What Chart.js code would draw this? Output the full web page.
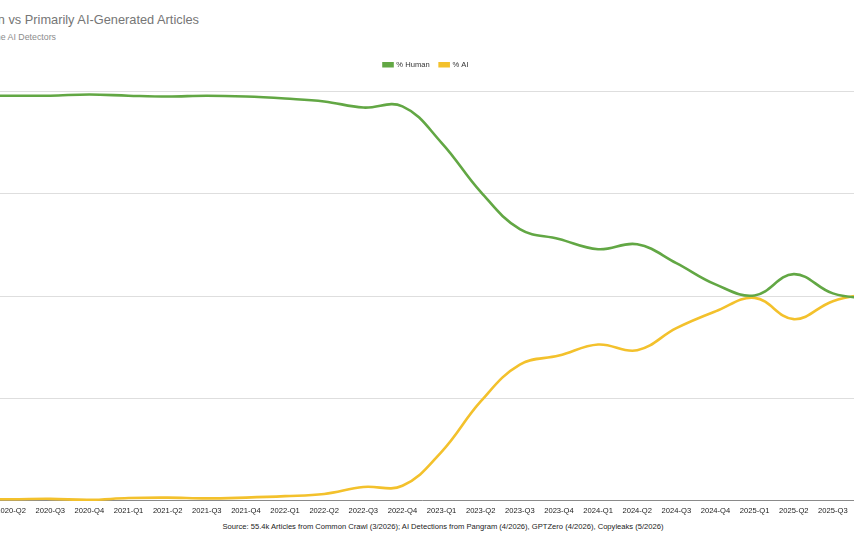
<!DOCTYPE html>
<html>
<head>
<meta charset="utf-8">
<script src="https://cdn.jsdelivr.net/npm/chart.js@4/dist/chart.umd.min.js"></script>
<style>
  body { margin: 0; width: 854px; height: 551px; overflow: hidden; background: #fff; position: relative; font-family: "Liberation Sans", Arial, sans-serif; }
  #title { position: absolute; right: 655px; top: 12px; white-space: nowrap; font-size: 12.8px; color: #767676; }
  #subtitle { position: absolute; right: 798px; top: 32px; white-space: nowrap; font-size: 8.8px; color: #8c8c8c; }
  #source { position: absolute; left: 0; width: 886px; top: 522px; text-align: center; white-space: nowrap; font-size: 7.6px; color: #222; }
  #wrap { position: absolute; left: -78px; top: 51px; width: 1008px; height: 469px; }
</style>
</head>
<body>
<div id="title">% Human vs Primarily AI-Generated Articles</div>
<div id="subtitle">Average of the AI Detectors</div>
<div id="wrap"><canvas id="trendChart"></canvas></div>
<div id="source">Source: 55.4k Articles from Common Crawl (3/2026); AI Detections from Pangram (4/2026), GPTZero (4/2026), Copyleaks (5/2026)</div>

<script>
const quarters = [
  "2020-Q1", "2020-Q2", "2020-Q3", "2020-Q4",
  "2021-Q1", "2021-Q2", "2021-Q3", "2021-Q4",
  "2022-Q1", "2022-Q2", "2022-Q3", "2022-Q4",
  "2023-Q1", "2023-Q2", "2023-Q3", "2023-Q4",
  "2024-Q1", "2024-Q2", "2024-Q3", "2024-Q4",
  "2025-Q1", "2025-Q2", "2025-Q3", "2025-Q4"
];

const humanPct = [
  99.0, 99.0, 99.0, 99.3,
  99.0, 98.8, 99.0, 98.8,
  98.3, 97.6, 96.1, 96.4,
  87.5, 75.5, 66.4, 64.0,
  61.5, 62.7, 58.1, 52.9,
  50.2, 55.4, 50.7, 49.3
];

const aiPct = [
  0.5, 0.4, 0.5, 0.25,
  0.7, 0.8, 0.6, 0.8,
  1.15, 1.7, 3.4, 3.7,
  12.0, 24.3, 33.3, 35.5,
  38.2, 36.8, 42.2, 46.3,
  49.6, 44.4, 48.8, 50.8
];

const yTicks = [0, 25, 50, 75, 100];

// push the plot down a bit under the legend
const legendGap = {
  id: "legendGap",
  beforeInit(chart) {
    const origFit = chart.legend.fit;
    chart.legend.fit = function () {
      origFit.bind(chart.legend)();
      this.height += 13;
    };
  },
  // center the legend on the whole canvas, ignoring the right padding
  afterLayout(chart) {
    chart.legend.left = 0;
    chart.legend.right = chart.width;
    chart.legend.width = chart.width;
  }
};

const ctx = document.getElementById("trendChart").getContext("2d");
new Chart(ctx, {
  type: "line",
  data: {
    labels: quarters,
    datasets: [
      {
        label: "% Human",
        data: humanPct,
        borderColor: "#62a744",
        backgroundColor: "#62a744",
        borderWidth: 2.6,
        pointRadius: 0,
        tension: 0.4
      },
      {
        label: "% AI",
        data: aiPct,
        borderColor: "#f3c12c",
        backgroundColor: "#f3c12c",
        borderWidth: 2.6,
        pointRadius: 0,
        tension: 0.4
      }
    ]
  },
  plugins: [legendGap],
  options: {
    responsive: true,
    maintainAspectRatio: false,
    animation: false,
    layout: { padding: { left: 0, right: 58, top: 0, bottom: 0 } },
    plugins: {
      legend: {
        position: "top",
        labels: {
          boxWidth: 9,
          boxHeight: 3,
          padding: 10,
          color: "#333",
          font: { family: "Liberation Sans", size: 7.6 }
        }
      },
      tooltip: { enabled: false }
    },
    scales: {
      x: {
        grid: { display: false, drawTicks: false, tickLength: 0 },
        border: { display: true, color: "#8a8a8a", width: 1 },
        ticks: {
          color: "#222",
          maxRotation: 0,
          autoSkip: false,
          padding: 5,
          font: { family: "Liberation Sans", size: 7.6 }
        }
      },
      y: {
        min: 0,
        max: 100,
        afterFit(axis) { axis.width = 50; },
        afterBuildTicks(axis) { axis.ticks = yTicks.map(v => ({ value: v })); },
        grid: { color: "#dedede", drawTicks: false },
        border: { display: false },
        ticks: {
          color: "#222",
          font: { family: "Liberation Sans", size: 7.6 },
          callback: v => v + "%"
        }
      }
    }
  }
});
</script>
</body>
</html>
